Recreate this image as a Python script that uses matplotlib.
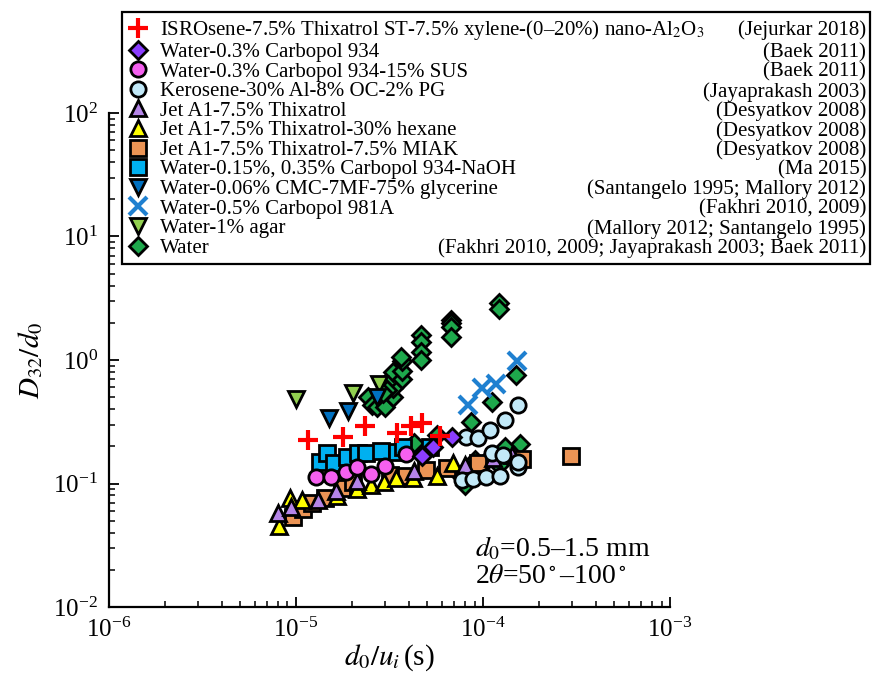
import matplotlib
matplotlib.use('Agg')
import matplotlib.pyplot as plt

plt.rcParams['font.family'] = ['Liberation Serif', 'DejaVu Serif']
plt.rcParams['mathtext.fontset'] = 'stix'

# ---- data: d0/ui (s) vs D32/d0 ----
isro_x = [1.16e-5, 1.78e-5, 2.34e-5, 3.47e-5, 4.12e-5, 4.72e-5, 5.89e-5]
isro_y = [0.225, 0.238, 0.292, 0.256, 0.292, 0.309, 0.243]

c934_x = [6.83e-5, 4.72e-5, 5.41e-5]
c934_y = [0.238, 0.167, 0.198]

sus_x = [1.28e-5, 1.54e-5, 1.85e-5, 2.12e-5, 2.52e-5, 2.99e-5, 3.87e-5]
sus_y = [0.113, 0.113, 0.124, 0.136, 0.119, 0.139, 0.173]

kero_x = [8.11e-5, 9.40e-5, 1.09e-4, 1.31e-4, 1.54e-4, 7.73e-5, 8.84e-5,
          1.04e-4, 1.23e-4, 1.54e-4, 1.12e-4, 1.28e-4, 1.54e-4]
kero_y = [0.238, 0.233, 0.271, 0.327, 0.432, 0.107, 0.109,
          0.113, 0.115, 0.136, 0.177, 0.170, 0.149]

thix_x = [8.02e-6, 9.40e-6, 1.31e-5, 1.64e-5, 2.12e-5, 4.28e-5, 8.01e-5, 1.13e-4, 1.43e-4]
thix_y = [0.0577, 0.0645, 0.0735, 0.0869, 0.105, 0.126, 0.141, 0.161, 0.170]

hex_x = [8.12e-6, 9.29e-6, 1.08e-5, 1.66e-5, 2.12e-5, 2.52e-5, 2.96e-5,
         3.43e-5, 4.22e-5, 5.68e-5, 6.92e-5]
hex_y = [0.0453, 0.0764, 0.0735, 0.0792, 0.0902, 0.0972, 0.103,
         0.111, 0.111, 0.115, 0.147]

miak_x = [9.64e-6, 1.09e-5, 1.22e-5, 1.43e-5, 1.76e-5, 2.02e-5, 3.18e-5,
          3.87e-5, 4.96e-5, 6.42e-5, 9.40e-5, 1.62e-4, 2.96e-4]
miak_y = [0.0535, 0.0621, 0.0695, 0.0764, 0.092, 0.103, 0.117,
          0.115, 0.129, 0.134, 0.147, 0.158, 0.167]

naoh_x = [1.34e-5, 1.47e-5, 1.60e-5, 1.87e-5, 2.15e-5, 2.37e-5, 2.85e-5,
          3.47e-5, 3.74e-5, 5.21e-5]
naoh_y = [0.149, 0.177, 0.147, 0.164, 0.177, 0.177, 0.183, 0.180, 0.198, 0.198]

cmc_x = [1.50e-5, 1.90e-5, 2.71e-5]
cmc_y = [0.339, 0.386, 0.501]

c981_x = [8.31e-5, 9.88e-5, 1.17e-4, 1.52e-4]
c981_y = [0.432, 0.593, 0.640, 0.982]

agar_x = [1.0e-5, 2.02e-5, 2.78e-5]
agar_y = [0.483, 0.541, 0.640]

water_x = [2.43e-5, 2.55e-5, 2.71e-5, 2.99e-5, 3.30e-5, 3.30e-5, 3.26e-5, 3.30e-5,
           3.68e-5, 3.68e-5, 3.68e-5, 3.64e-5, 3.07e-5, 2.92e-5,
           4.66e-5, 4.66e-5, 4.66e-5, 4.66e-5,
           6.74e-5, 6.74e-5, 6.74e-5, 6.74e-5, 1.22e-4, 1.22e-4,
           1.50e-4, 1.12e-4, 8.63e-5, 4.28e-5, 5.68e-5, 1.58e-4, 1.31e-4,
           1.22e-4, 1.03e-4, 7.54e-5, 8.01e-5, 9.07e-5]
water_y = [0.501, 0.432, 0.416, 0.416, 0.501, 0.593, 0.728, 0.800,
           0.702, 0.815, 0.982, 1.057, 0.571, 0.541,
           1.59, 1.40, 1.16, 1.0,
           2.11, 1.99, 1.85, 1.54, 2.89, 2.59,
           0.756, 0.457, 0.315, 0.213, 0.247, 0.209, 0.198,
           0.141, 0.149, 0.117, 0.097, 0.155]

labels = [
    'ISROsene-7.5% Thixatrol ST-7.5% xylene-(0\u201320%) nano-Al$_2$O$_3$',
    'Water-0.3% Carbopol 934',
    'Water-0.3% Carbopol 934-15% SUS',
    'Kerosene-30% Al-8% OC-2% PG',
    'Jet A1-7.5% Thixatrol',
    'Jet A1-7.5% Thixatrol-30% hexane',
    'Jet A1-7.5% Thixatrol-7.5% MIAK',
    'Water-0.15%, 0.35% Carbopol 934-NaOH',
    'Water-0.06% CMC-7MF-75% glycerine',
    'Water-0.5% Carbopol 981A',
    'Water-1% agar',
    'Water',
]
sources = [
    '(Jejurkar 2018)',
    '(Baek 2011)',
    '(Baek 2011)',
    '(Jayaprakash 2003)',
    '(Desyatkov 2008)',
    '(Desyatkov 2008)',
    '(Desyatkov 2008)',
    '(Ma 2015)',
    '(Santangelo 1995; Mallory 2012)',
    '(Fakhri 2010, 2009)',
    '(Mallory 2012; Santangelo 1995)',
    '(Fakhri 2010, 2009; Jayaprakash 2003; Baek 2011)',
]
xs = [isro_x, c934_x, sus_x, kero_x, thix_x, hex_x, miak_x, naoh_x, cmc_x, c981_x, agar_x, water_x]
ys = [isro_y, c934_y, sus_y, kero_y, thix_y, hex_y, miak_y, naoh_y, cmc_y, c981_y, agar_y, water_y]

# marker, face colour, size
styles = [
    ('+', '#ff0000', 15),
    ('D', '#8b3dff', 9),
    ('o', '#f560f0', 11),
    ('o', '#c2e9f8', 11),
    ('^', '#b585e8', 11),
    ('^', '#ffff00', 11),
    ('s', '#eb9455', 11),
    ('s', '#00b0f0', 11),
    ('v', '#0070c0', 11),
    ('x', '#1f80d0', 13),
    ('v', '#92d050', 11),
    ('D', '#1ea84c', 9),
]

fig = plt.figure(figsize=(8.74, 6.75), dpi=100)
ax = fig.add_axes([0.1247, 0.1007, 0.642, 0.732])

handles = [None] * len(labels)
for i in reversed(range(len(labels))):
    m, c, s = styles[i]
    if m in '+x':
        h, = ax.plot(xs[i], ys[i], ls='none', marker=m, ms=s, mec=c, mew=3, label=labels[i])
    else:
        h, = ax.plot(xs[i], ys[i], ls='none', marker=m, ms=s, mfc=c, mec='black', mew=2,
                     label=labels[i])
    handles[i] = h

ax.set_xscale('log')
ax.set_yscale('log')
ax.set_xlim(1e-6, 1e-3)
ax.set_ylim(1e-2, 1e2)

for side in ['top', 'right']:
    ax.spines[side].set_visible(False)
for side in ['left', 'bottom']:
    ax.spines[side].set_linewidth(1.6)
ax.tick_params(which='major', direction='in', length=7, width=1.3, labelsize=18, pad=8)
ax.tick_params(which='minor', direction='in', length=4.5, width=1.1)

ax.set_xlabel(r'$d_0/u_i\,$(s)', fontsize=21, labelpad=0)
ax.set_ylabel(r'$D_{32}/d_0$', fontsize=21, labelpad=6)

ax.text(0.652, 0.119, '$d_0$=0.5\u20131.5 mm', transform=ax.transAxes, fontsize=20,
        va='center')
ax.text(0.652, 0.061, '2$\\theta$=50$^\\circ$\u2013100$^\\circ$', transform=ax.transAxes,
        fontsize=20, va='center')

leg = ax.legend(handles=handles, loc='upper left', mode='expand',
                bbox_to_anchor=(0.1396, 0.603, 0.8558, 0.379), bbox_transform=fig.transFigure,
                borderaxespad=0, fontsize=15, labelspacing=0.0, handlelength=0.9,
                handletextpad=0.6, borderpad=0.3, fancybox=False, framealpha=1,
                edgecolor='black')
leg.get_frame().set_linewidth(1.6)
leg.set_zorder(5)

fig.canvas.draw()
inv = fig.transFigure.inverted()
for t, src in zip(leg.get_texts(), sources):
    bb = t.get_window_extent()
    yc = inv.transform((0, (bb.y0 + bb.y1) / 2))[1]
    fig.text(0.991, yc, src, ha='right', va='center', fontsize=15, zorder=6)

fig.savefig('out.png', dpi=100)
